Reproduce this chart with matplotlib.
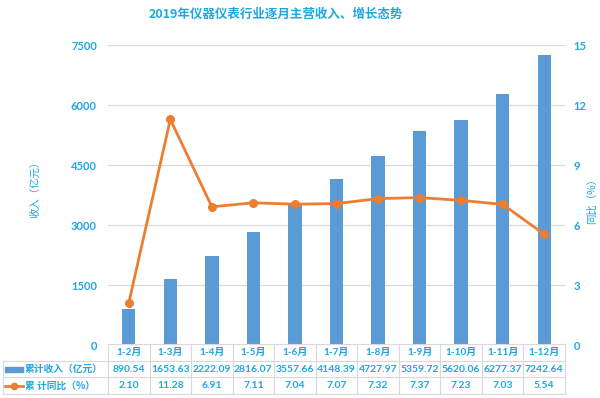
import matplotlib
matplotlib.use("Agg")
import matplotlib.pyplot as plt
from matplotlib.transforms import blended_transform_factory
from matplotlib.lines import Line2D
from matplotlib.patches import Rectangle

plt.rcParams['font.family'] = ['Lato', 'Noto Sans CJK SC', 'DejaVu Sans']

categories = ["1-2月", "1-3月", "1-4月", "1-5月", "1-6月", "1-7月", "1-8月", "1-9月", "1-10月", "1-11月", "1-12月"]
revenue = [890.54, 1653.63, 2222.09, 2816.07, 3557.66, 4148.39, 4727.97, 5359.72, 5620.06, 6277.37, 7242.64]
yoy = [2.10, 11.28, 6.91, 7.11, 7.04, 7.07, 7.32, 7.37, 7.23, 7.03, 5.54]
revenue_labels = ["890.54", "1653.63", "2222.09", "2816.07", "3557.66", "4148.39", "4727.97", "5359.72", "5620.06", "6277.37", "7242.64"]
yoy_labels = ["2.10", "11.28", "6.91", "7.11", "7.04", "7.07", "7.32", "7.37", "7.23", "7.03", "5.54"]
left_ticks = [0, 1500, 3000, 4500, 6000, 7500]
right_ticks = [0, 3, 6, 9, 12, 15]
title = "2019年仪器仪表行业逐月主营收入、增长态势"
row1_label = "累计收入（亿元）"
row2_label = "累 计同比（%）"

TXT = "#1EA7E1"
BAR = "#5B9BD5"
LINE = "#ED7D31"
GRID = "#D9D9D9"

W, H = 600, 398
fig = plt.figure(figsize=(6, 3.98), dpi=100)
def fx(px): return px / W
def fy(py): return 1 - py / H

ax = fig.add_axes([fx(108), fy(345), fx(565) - fx(108), fy(45) - fy(345)])
ax2 = ax.twinx()
n = len(categories)
x = list(range(n))
ax.bar(x, revenue, width=0.32, color=BAR, zorder=2)
ax.set_xlim(-0.5, n - 0.5)
ax.set_ylim(0, 7500)
ax.set_yticks(left_ticks)
ax.set_yticklabels([str(t) for t in left_ticks])
for t in left_ticks[1:]:
    ax.axhline(t, color=GRID, lw=0.9, zorder=0)
ax2.plot(x, yoy, color=LINE, lw=2, marker='o', ms=5.5, zorder=3)
ax2.set_ylim(0, 15)
ax2.set_yticks(right_ticks)
ax2.set_yticklabels([str(t) for t in right_ticks])
ax2.set_zorder(ax.get_zorder() + 1)
for a in (ax, ax2):
    for s in a.spines.values():
        s.set_visible(False)
    a.tick_params(length=0, labelsize=8, colors=TXT)
    for lab in a.get_yticklabels():
        lab.set_fontweight('bold')
ax.tick_params(axis='y', pad=8)
ax2.tick_params(axis='y', pad=6)
ax.set_xticks([])
ax2.set_xticks([])

CJK = ['Noto Sans CJK SC', 'DejaVu Sans']
fig.text(fx(35), fy(187), "收入（亿元）", rotation=90, ha='center', va='center', color=TXT, fontsize=7.5, family=CJK)
fig.text(fx(592), fy(199), "同比（%）", rotation=90, ha='center', va='center', color=TXT, fontsize=7.5, family=CJK)
fig.text(fx(276), fy(14), title, ha='center', va='center', color=TXT, fontsize=9, fontweight='bold', family=CJK)

# data table
tr = blended_transform_factory(ax.transData, fig.transFigure)
rows_y = [344, 361, 377, 394]
for ry in rows_y:
    y = fy(ry)
    if ry == rows_y[0]:
        ax.add_line(Line2D([-0.5, n - 0.5], [y, y], transform=tr, color=GRID, lw=0.8, clip_on=False))
    else:
        fig.add_artist(Line2D([fx(3), fx(565)], [y, y], color=GRID, lw=0.8))
for i in range(n + 1):
    ax.add_line(Line2D([i - 0.5, i - 0.5], [fy(344), fy(394)], transform=tr, color=GRID, lw=0.8, clip_on=False))
fig.add_artist(Line2D([fx(3), fx(3)], [fy(361), fy(394)], color=GRID, lw=0.8))

for i in range(n):
    ax.text(i, fy(352.5), categories[i], transform=tr, ha='center', va='center', color=TXT, fontsize=7.2, fontweight='bold', clip_on=False)
    ax.text(i, fy(369), revenue_labels[i], transform=tr, ha='center', va='center', color=TXT, fontsize=7.5, fontweight='bold', clip_on=False)
    ax.text(i, fy(385.5), yoy_labels[i], transform=tr, ha='center', va='center', color=TXT, fontsize=7.5, fontweight='bold', clip_on=False)

fig.add_artist(Rectangle((fx(5), fy(371.5)), fx(18) - fx(0), fy(366.5) - fy(371.5), color=BAR))
fig.add_artist(Line2D([fx(5), fx(23)], [fy(385.5), fy(385.5)], color=LINE, lw=2))
fig.add_artist(Line2D([fx(14)], [fy(385.5)], color=LINE, marker='o', ms=4.5))
fig.text(fx(25), fy(369), row1_label, ha='left', va='center', color=TXT, fontsize=7, fontweight='bold', family=CJK)
fig.text(fx(25), fy(385.5), row2_label, ha='left', va='center', color=TXT, fontsize=7, fontweight='bold', family=CJK)

fig.savefig("out.png", dpi=100)
